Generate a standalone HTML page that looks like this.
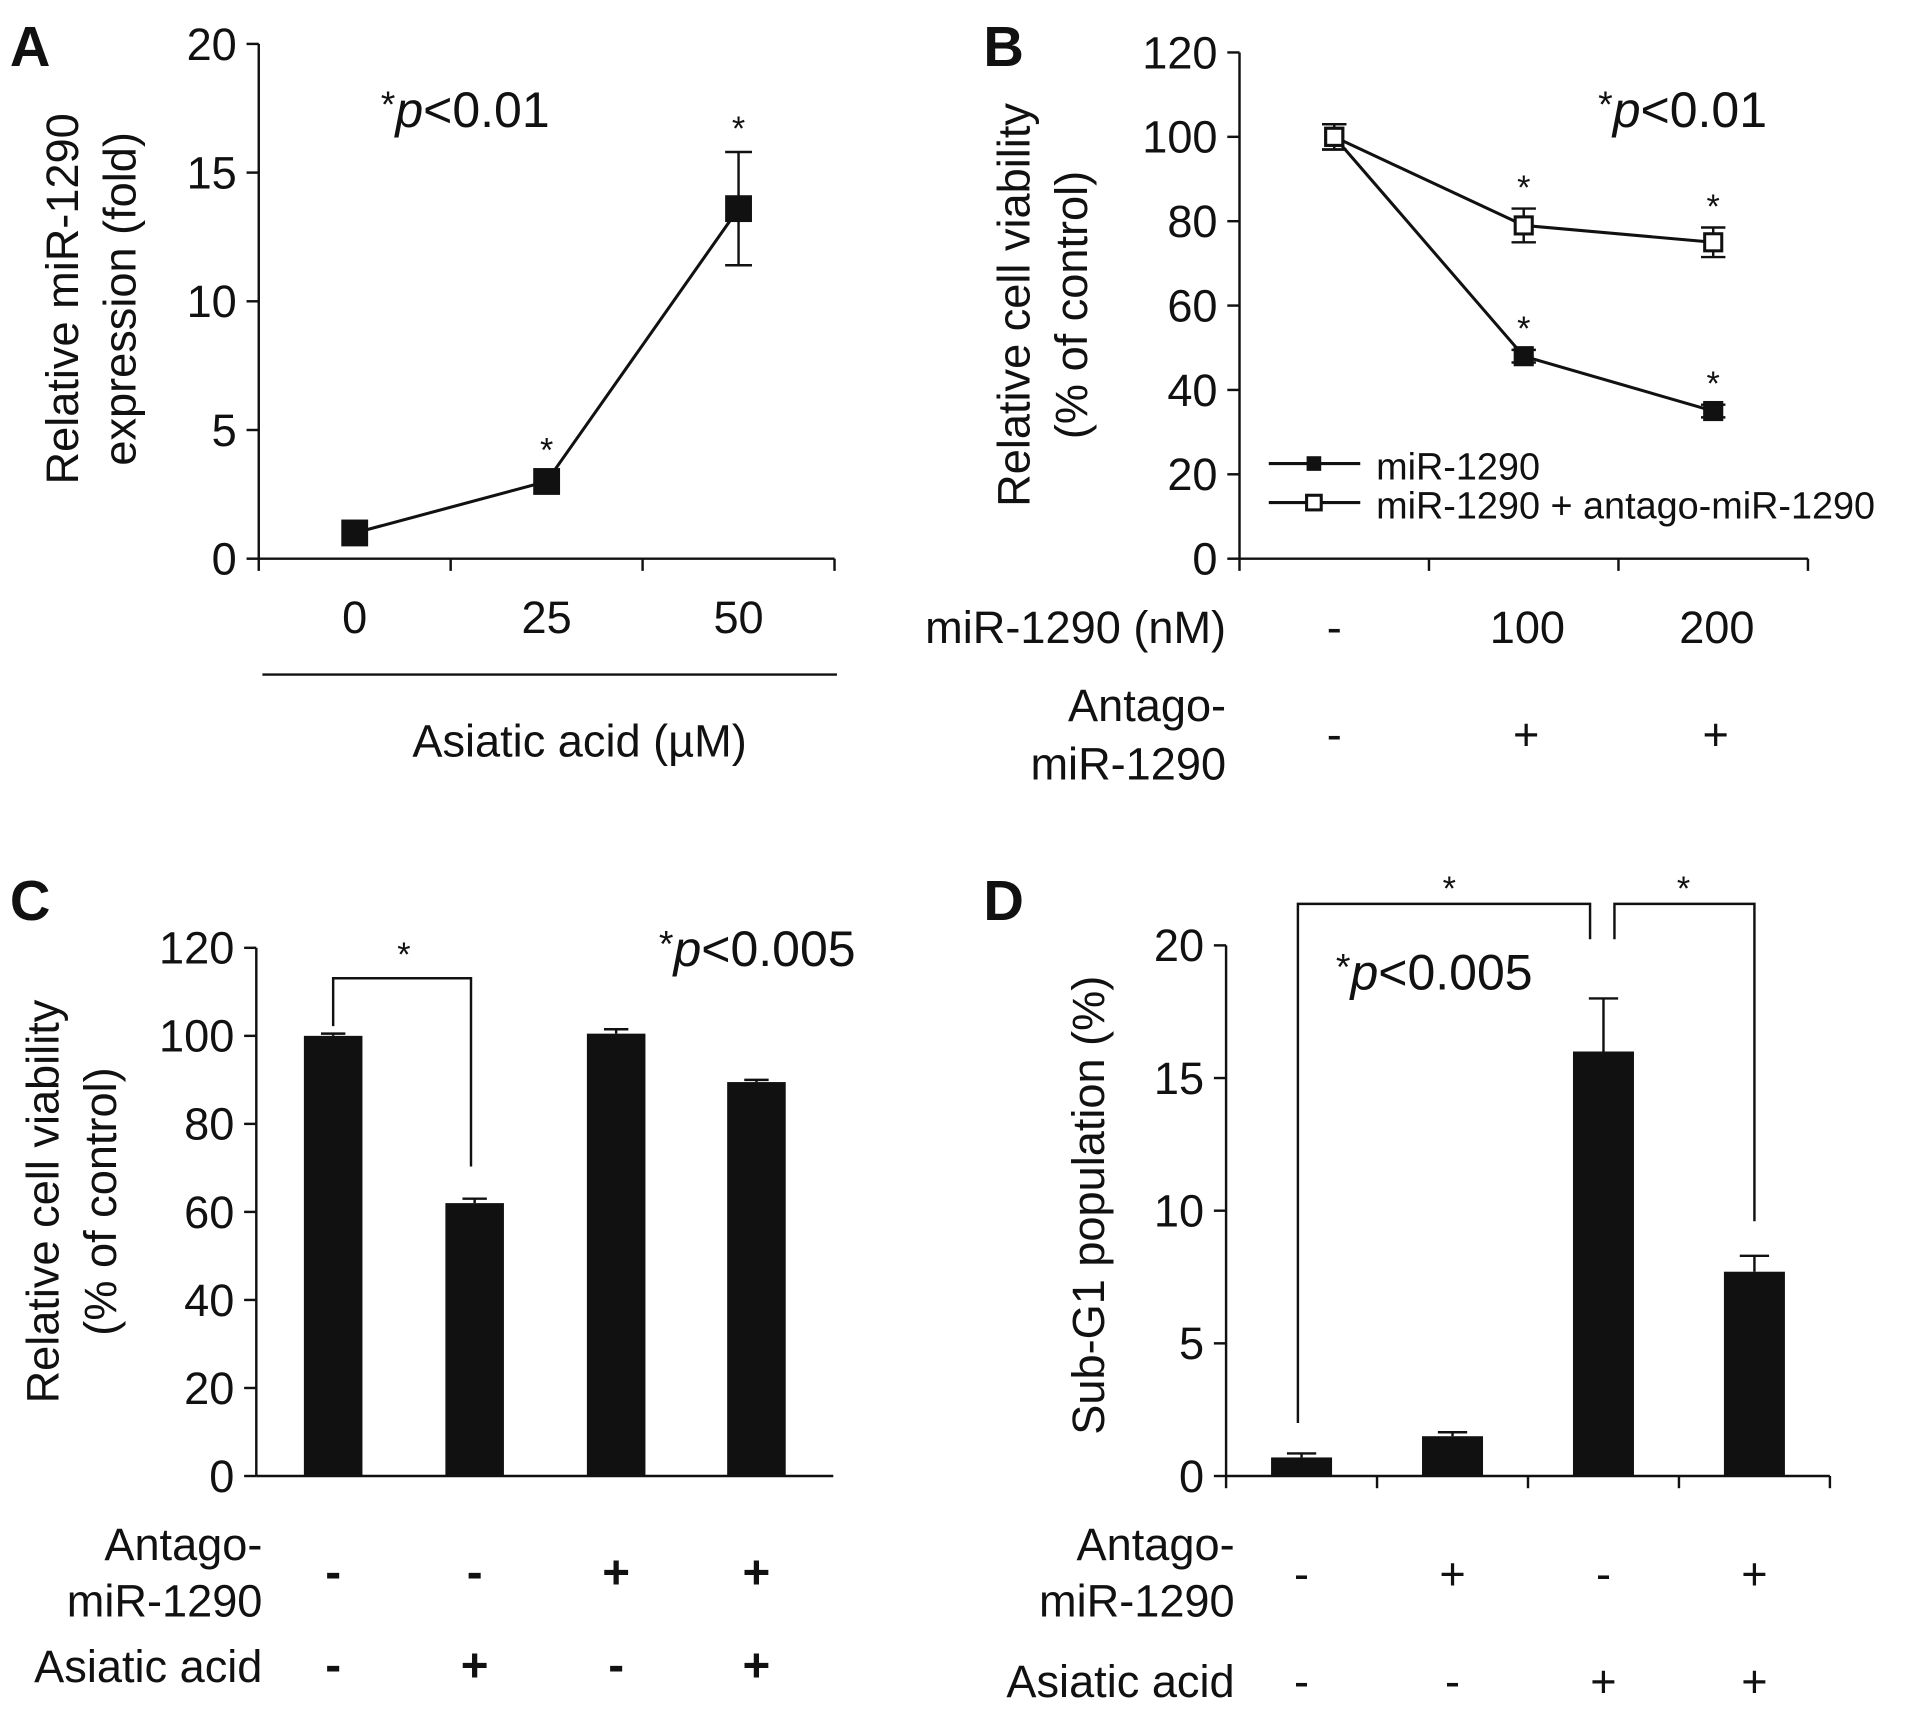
<!DOCTYPE html>
<html><head><meta charset="utf-8"><style>
html,body{margin:0;padding:0;background:#fff}
svg{display:block}
text{font-family:"Liberation Sans",Arial,sans-serif;fill:#111}
</style></head><body>
<svg id="fig" width="1913" height="1709" viewBox="0 0 1568 1401" xmlns="http://www.w3.org/2000/svg">
<g id="gA"></g>
<g id="gB"></g>
<g id="gC"></g>
<g id="gD"></g>
</svg>
<script>
// Panel A data
const aCategories = ["0","25","50"];
const aValues = [1.0, 3.0, 13.6];
const aErrors = [0.2, 0.3, 2.2];
const aTicks = [0,5,10,15,20];
// Panel B data
const bMiR = ["-","100","200"];
const bAntago = ["-","+","+"];
const bFilled = [100, 48, 35];
const bFilledErr = [3, 1.5, 1.5];
const bOpen = [100, 79, 75];
const bOpenErr = [3, 4, 3.5];
const bTicks = [0,20,40,60,80,100,120];
// Panel C data
const cValues = [100, 62, 100.5, 89.5];
const cErrors = [0.5, 1, 1, 0.5];
const cAntago = ["-","-","+","+"];
const cAsiatic = ["-","+","-","+"];
const cTicks = [0,20,40,60,80,100,120];
// Panel D data
const dValues = [0.7, 1.5, 16.0, 7.7];
const dErrors = [0.15, 0.15, 2.0, 0.6];
const dAntago = ["-","+","-","+"];
const dAsiatic = ["-","-","+","+"];
const dTicks = [0,5,10,15,20];

const NS="http://www.w3.org/2000/svg";
const TS=37, TT=37, PS=41;
function el(parent,tag,attrs,txt){const e=document.createElementNS(NS,tag);for(const k in attrs)e.setAttribute(k,attrs[k]);if(txt!==undefined)e.textContent=txt;parent.appendChild(e);return e;}
function line(p,x1,y1,x2,y2,w){return el(p,'line',{x1,y1,x2,y2,stroke:'#111','stroke-width':w||2});}
function txt(p,x,y,s,size,anchor,extra){const t=el(p,'text',Object.assign({x,y,'font-size':size,'text-anchor':anchor||'middle'},extra||{}),s);return t;}
function pval(p,x,y,label,size){const t=el(p,'text',{x,y,'font-size':size});el(t,'tspan',{'font-size':size*0.75,dy:-8},'*');el(t,'tspan',{'font-style':'italic',dy:8},'p');el(t,'tspan',{},label);return t;}
function yAxis(g,x,y0,yTop,vmax,ticks,size){
  const sy=v=>y0-(y0-yTop)*v/vmax;
  const ax=line(g,x,y0,x,yTop);
  ticks.forEach(t=>{line(g,x-10,sy(t),x,sy(t));const l=txt(g,x-18,sy(t)+13,String(t),size,'end');});
  return sy;
}
function errbar(g,x,yv,ye,cap,both){line(g,x,ye,x,both!==undefined?both:yv);line(g,x-cap,ye,x+cap,ye);if(both!==undefined)line(g,x-cap,both,x+cap,both);}

// ---------- Panel A
(function(){
const g=document.getElementById('gA');
const l=txt(g,8,54,'A',46,'start',{'font-weight':'bold'});
const sy=yAxis(g,212,458,36,20,aTicks,TS);
const x0=212,x1=684,n=aCategories.length,step=(x1-x0)/n;
const sx=i=>x0+step*(i+0.5);
const xa=line(g,x0,458,x1,458);
for(let i=0;i<=n;i++)line(g,x0+step*i,458,x0+step*i,468);
let d='';aValues.forEach((v,i)=>{d+=(i?'L':'M')+sx(i)+' '+sy(v);});
const pl=el(g,'path',{d,fill:'none',stroke:'#111','stroke-width':2.5});
aValues.forEach((v,i)=>{
  if(aErrors[i]>0.5)errbar(g,sx(i),sy(v),sy(v+aErrors[i]),11,sy(v-aErrors[i]));
  const r=el(g,'rect',{x:sx(i)-11,y:sy(v)-11,width:22,height:22,fill:'#111'});
  if(i>0){const s=txt(g,sx(i),sy(v+aErrors[i])-10,'*',28);}
  const t=txt(g,sx(i),519,aCategories[i],TS);
});
line(g,215,553,686,553,2);
const xt=txt(g,475,620,'Asiatic acid (µM)',TS);
const yt=el(g,'text',{transform:'translate(64,245) rotate(-90)','font-size':TT,'text-anchor':'middle'},'Relative miR-1290');
el(g,'text',{transform:'translate(111,245) rotate(-90)','font-size':TT,'text-anchor':'middle'},'expression (fold)');
pval(g,312,104,'<0.01',PS);
})();

// ---------- Panel B
(function(){
const g=document.getElementById('gB');
const l=txt(g,806,54,'B',46,'start',{'font-weight':'bold'});
const sy=yAxis(g,1016,458,43,120,bTicks,TS);
const x0=1016,x1=1482,n=bMiR.length,step=(x1-x0)/n;
const sx=i=>x0+step*(i+0.5);
line(g,x0,458,x1,458);
for(let i=0;i<=n;i++)line(g,x0+step*i,458,x0+step*i,468);
function series(vals,errs,open,name){
  let d='';vals.forEach((v,i)=>{d+=(i?'L':'M')+sx(i)+' '+sy(v);});
  const p=el(g,'path',{d,fill:'none',stroke:'#111','stroke-width':2.5});
  vals.forEach((v,i)=>{errbar(g,sx(i),sy(v),sy(v+errs[i]),10,sy(v-errs[i]));
    const r=el(g,'rect',{x:sx(i)-7,y:sy(v)-7,width:14,height:14,fill:open?'#fff':'#111',stroke:'#111','stroke-width':2.5});
    if(i>0){const s=txt(g,sx(i),sy(v+errs[i])-8,'*',28);}
  });
}
series(bFilled,bFilledErr,false,'mir-1290');
series(bOpen,bOpenErr,true,'antago');
line(g,1040,380,1115,380,2.5);el(g,'rect',{x:1071,y:374,width:12,height:12,fill:'#111'});
const l1=txt(g,1128,393,'miR-1290',31,'start');
line(g,1040,412,1115,412,2.5);el(g,'rect',{x:1071,y:406,width:12,height:12,fill:'#fff',stroke:'#111','stroke-width':2.5});
const l2=txt(g,1128,425,'miR-1290 + antago-miR-1290',31,'start');
txt(g,1005,527,'miR-1290 (nM)',TS,'end');
txt(g,1005,591,'Antago-',TS,'end');txt(g,1005,639,'miR-1290',TS,'end');
bMiR.forEach((s,i)=>{const t=txt(g,sx(i)+(i?3:0),527,s,TS);});
bAntago.forEach((s,i)=>txt(g,sx(i)+(i?2:0),615,s,TS));
const yt=el(g,'text',{transform:'translate(844,250) rotate(-90)','font-size':TT,'text-anchor':'middle'},'Relative cell viability');
el(g,'text',{transform:'translate(891,250) rotate(-90)','font-size':TT,'text-anchor':'middle'},'(% of control)');
pval(g,1310,104,'<0.01',PS);
})();

// ---------- Panel C
(function(){
const g=document.getElementById('gC');
const l=txt(g,8,754,'C',46,'start',{'font-weight':'bold'});
const sy=yAxis(g,210,1210,777,120,cTicks,TS);
const cx=[273,389,505,620];
line(g,210,1210,683,1210);
cValues.forEach((v,i)=>{
  const r=el(g,'rect',{x:cx[i]-24,y:sy(v),width:48,height:1210-sy(v),fill:'#111'});
  errbar(g,cx[i],sy(v),sy(v+cErrors[i]),10);
  txt(g,cx[i],1302,cAntago[i],39,'middle',{'font-weight':'bold'});
  txt(g,cx[i],1378,cAsiatic[i],39,'middle',{'font-weight':'bold'});
});
const yb=sy(102)-40;
const br=el(g,'path',{d:`M${cx[0]} ${sy(cValues[0])-8}V${yb}H${cx[1]-3}V${sy(cValues[1])-30}`,fill:'none',stroke:'#111','stroke-width':2});
txt(g,(cx[0]+cx[1])/2,yb-10,'*',28);
txt(g,215,1279,'Antago-',TS,'end');txt(g,215,1325,'miR-1290',TS,'end');
txt(g,215,1379,'Asiatic acid',TS,'end');
const yt=el(g,'text',{transform:'translate(48,985) rotate(-90)','font-size':TT,'text-anchor':'middle'},'Relative cell viability');
el(g,'text',{transform:'translate(95,985) rotate(-90)','font-size':TT,'text-anchor':'middle'},'(% of control)');
pval(g,540,792,'<0.005',PS);
})();

// ---------- Panel D
(function(){
const g=document.getElementById('gD');
const l=txt(g,806,754,'D',46,'start',{'font-weight':'bold'});
const sy=yAxis(g,1005,1210,775,20,dTicks,TS);
const x0=1005,x1=1500,n=dValues.length,step=(x1-x0)/n;
const sx=i=>x0+step*(i+0.5);
line(g,x0,1210,x1,1210);
for(let i=0;i<=n;i++)line(g,x0+step*i,1210,x0+step*i,1220);
dValues.forEach((v,i)=>{
  const r=el(g,'rect',{x:sx(i)-25,y:sy(v),width:50,height:1210-sy(v),fill:'#111'});
  errbar(g,sx(i),sy(v),sy(v+dErrors[i]),12);
  txt(g,sx(i),1303,dAntago[i],TS);
  txt(g,sx(i),1391,dAsiatic[i],TS);
});
const b1=el(g,'path',{d:`M${sx(0)-3} ${sy(2)}V741H${sx(2)-11}V770`,fill:'none',stroke:'#111','stroke-width':2});
const b2=el(g,'path',{d:`M${sx(2)+9} 770V741H${sx(3)}V${sy(9.6)}`,fill:'none',stroke:'#111','stroke-width':2});
txt(g,1188,738,'*',28);txt(g,1380,738,'*',28);
txt(g,1012,1279,'Antago-',TS,'end');txt(g,1012,1325,'miR-1290',TS,'end');
txt(g,1012,1391,'Asiatic acid',TS,'end');
const yt=el(g,'text',{transform:'translate(905,988) rotate(-90)','font-size':TT,'text-anchor':'middle'},'Sub-G1 population (%)');
pval(g,1095,811,'<0.005',PS);
})();
</script>
</body></html>
